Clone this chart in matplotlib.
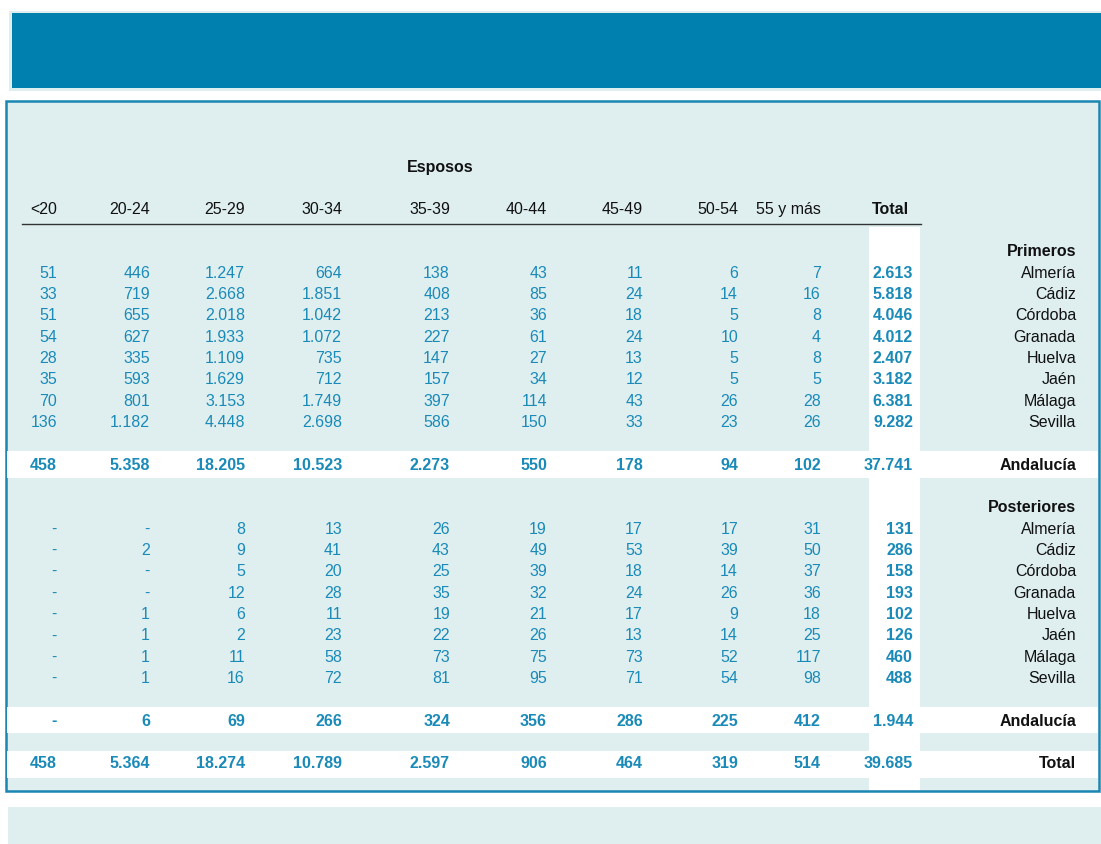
import matplotlib.pyplot as plt
from matplotlib.patches import Rectangle

# column headers and row labels
AGE_GROUPS = ["<20", "20-24", "25-29", "30-34", "35-39", "40-44", "45-49", "50-54", "55 y más", "Total"]
PROVINCES = ["Almería", "Cádiz", "Córdoba", "Granada", "Huelva", "Jaén", "Málaga", "Sevilla"]

# Primeros matrimonios, by province (last value = Total)
PRIMEROS = [
    [51, 446, 1247, 664, 138, 43, 11, 6, 7, 2613],
    [33, 719, 2668, 1851, 408, 85, 24, 14, 16, 5818],
    [51, 655, 2018, 1042, 213, 36, 18, 5, 8, 4046],
    [54, 627, 1933, 1072, 227, 61, 24, 10, 4, 4012],
    [28, 335, 1109, 735, 147, 27, 13, 5, 8, 2407],
    [35, 593, 1629, 712, 157, 34, 12, 5, 5, 3182],
    [70, 801, 3153, 1749, 397, 114, 43, 26, 28, 6381],
    [136, 1182, 4448, 2698, 586, 150, 33, 23, 26, 9282],
]
PRIMEROS_ANDALUCIA = [458, 5358, 18205, 10523, 2273, 550, 178, 94, 102, 37741]

# Posteriores matrimonios (0 shown as "-")
POSTERIORES = [
    [0, 0, 8, 13, 26, 19, 17, 17, 31, 131],
    [0, 2, 9, 41, 43, 49, 53, 39, 50, 286],
    [0, 0, 5, 20, 25, 39, 18, 14, 37, 158],
    [0, 0, 12, 28, 35, 32, 24, 26, 36, 193],
    [0, 1, 6, 11, 19, 21, 17, 9, 18, 102],
    [0, 1, 2, 23, 22, 26, 13, 14, 25, 126],
    [0, 1, 11, 58, 73, 75, 73, 52, 117, 460],
    [0, 1, 16, 72, 81, 95, 71, 54, 98, 488],
]
POSTERIORES_ANDALUCIA = [0, 6, 69, 266, 324, 356, 286, 225, 412, 1944]
TOTAL = [458, 5364, 18274, 10789, 2597, 906, 464, 319, 514, 39685]

# layout (pixels)
COL_RIGHT = [57, 150, 245, 342, 450, 547, 643, 738, 821, 913]
LABEL_RIGHT = 1076
ROW_STEP = 21.4
Y_OFF = 1.5
DARK = "#0080ae"
LIGHT = "#dfeff0"
NUM = "#1a8ab8"
TXT = "#111111"
FS = 11.5

plt.rcParams['font.family'] = ['Liberation Sans', 'DejaVu Sans']


def fmt(v):
    if v == 0:
        return "-"
    return "{:,}".format(v).replace(",", ".")


def put(ax, x, y, s, color=TXT, bold=False, ha='right'):
    ax.text(x, y + Y_OFF, s, ha=ha, va='center', color=color, fontsize=FS,
            fontweight='bold' if bold else 'normal')


def draw_row(ax, y, values, label, bold=False):
    for i, (x, v) in enumerate(zip(COL_RIGHT, values)):
        put(ax, x, y, fmt(v), color=NUM, bold=bold or i == len(values) - 1)
    put(ax, LABEL_RIGHT, y, label, bold=bold)


def main():
    fig = plt.figure(figsize=(11.01, 8.44), dpi=100)
    ax = fig.add_axes([0, 0, 1, 1])
    ax.set_xlim(0, 1101)
    ax.set_ylim(844, 0)
    ax.axis('off')

    # top banner
    ax.add_patch(Rectangle((9, 11), 1092, 80, facecolor=LIGHT, edgecolor='none'))
    ax.add_patch(Rectangle((12, 13), 1089, 75, facecolor=DARK, edgecolor='none'))

    # main panel
    ax.add_patch(Rectangle((6, 101), 1093, 690, facecolor=LIGHT, edgecolor="#1a86b2", linewidth=1.8))
    # bottom note box
    ax.add_patch(Rectangle((8, 807), 1093, 37, facecolor=LIGHT, edgecolor='none'))

    # white stripes: total column and summary rows
    ax.add_patch(Rectangle((869, 227), 51, 563, facecolor='white', edgecolor='none'))
    for y0, y1 in [(451, 478), (707, 733), (751, 778)]:
        ax.add_patch(Rectangle((7, y0), 1091, y1 - y0, facecolor='white', edgecolor='none'))

    # header
    put(ax, 440, 166, "Esposos", bold=True, ha='center')
    for i, (x, h) in enumerate(zip(COL_RIGHT, AGE_GROUPS)):
        last = i == len(AGE_GROUPS) - 1
        put(ax, x - (4 if last else 0), 208, h, bold=last)
    ax.plot([22, 921], [224, 224], color="#333333", linewidth=1)

    # Primeros block
    put(ax, LABEL_RIGHT, 250, "Primeros", bold=True)
    for i, (prov, row) in enumerate(zip(PROVINCES, PRIMEROS)):
        draw_row(ax, 271.5 + i * ROW_STEP, row, prov)
    draw_row(ax, 464, PRIMEROS_ANDALUCIA, "Andalucía", bold=True)

    # Posteriores block
    put(ax, LABEL_RIGHT, 506, "Posteriores", bold=True)
    for i, (prov, row) in enumerate(zip(PROVINCES, POSTERIORES)):
        draw_row(ax, 527.5 + i * ROW_STEP, row, prov)
    draw_row(ax, 719.5, POSTERIORES_ANDALUCIA, "Andalucía", bold=True)

    draw_row(ax, 762.5, TOTAL, "Total", bold=True)

    fig.savefig("out.png", dpi=100)


if __name__ == "__main__":
    main()
